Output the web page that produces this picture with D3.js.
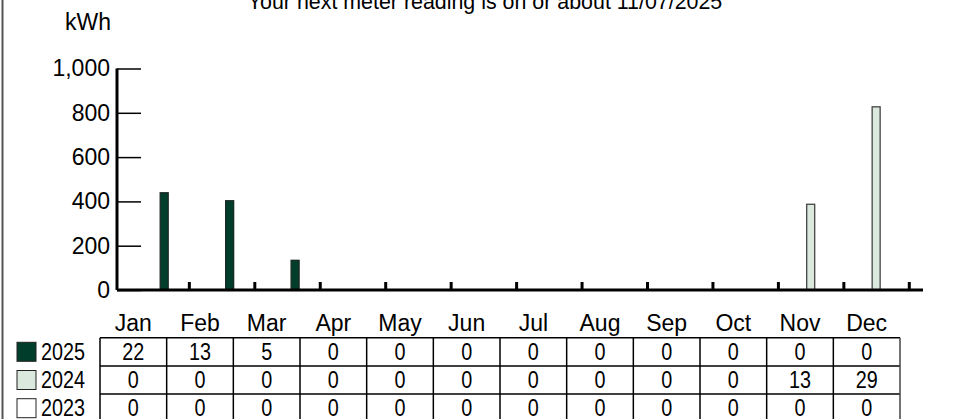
<!DOCTYPE html>
<html>
<head>
<meta charset="utf-8">
<script src="https://cdn.jsdelivr.net/npm/d3@7"></script>
<style>
  body { margin: 0; background: #fff; }
  svg { display: block; font-family: "Liberation Sans", Arial, sans-serif; }
</style>
</head>
<body>
<div id="chart"></div>
<script>

var months = ['Jan','Feb','Mar','Apr','May','Jun','Jul','Aug','Sep','Oct','Nov','Dec'];
var years = ['2025','2024','2023'];

// bar heights in kWh
var kwh2025 = [439, 403, 134, 0, 0, 0, 0, 0, 0, 0, 0, 0];
var kwh2024 = [0, 0, 0, 0, 0, 0, 0, 0, 0, 0, 387, 827];
var kwh2023 = [0, 0, 0, 0, 0, 0, 0, 0, 0, 0, 0, 0];

// numbers in the table under the chart
var table2025 = [22, 13, 5, 0, 0, 0, 0, 0, 0, 0, 0, 0];
var table2024 = [0, 0, 0, 0, 0, 0, 0, 0, 0, 0, 13, 29];
var table2023 = [0, 0, 0, 0, 0, 0, 0, 0, 0, 0, 0, 0];

var yTicks = [0, 200, 400, 600, 800, 1000];
var titleText = 'Your next meter reading is on or about 11/07/2025';

var colors = {'2025': '#003d2b', '2024': '#dae8de', '2023': '#ffffff'};

function drawChart(containerId){

    var width = 955, height = 419;
    var narrow = 0.86;   // table digits are drawn narrow in the original

    var svg = d3.select('#' + containerId).append('svg')
        .attr('width', width)
        .attr('height', height);

    // frame edge on the left
    svg.append('line')
        .attr('x1', 2.5).attr('x2', 2.5)
        .attr('y1', 0).attr('y2', height)
        .attr('stroke', '#555')
        .attr('stroke-width', 2);

    svg.append('text')
        .attr('x', 485)
        .attr('y', 9)
        .attr('text-anchor', 'middle')
        .attr('font-size', 21.4)
        .text(titleText);

    var y = d3.scaleLinear()
        .domain([0, 1000])
        .range([290, 68.5]);

    var x = d3.scaleBand()
        .domain(months)
        .range([123.9, 909.3]);

    var sub = d3.scaleBand()
        .domain(['2023', '2024', '2025'])
        .range([20.3, 44.3]);

    // y axis
    var yAxis = g => g
        .attr('transform', 'translate(117,0)')
        .call(d3.axisLeft(y).tickValues(yTicks).tickSize(-24).tickPadding(7).tickFormat(d3.format(',')))
        .call(g => g.select('.domain').attr('stroke-width', 3).attr('d', 'M0,' + y(1000) + 'V' + y(0)))
        .call(g => g.selectAll('.tick line').attr('stroke-width', 1.5))
        .call(g => g.selectAll('.tick text').attr('font-size', 23).attr('fill', '#000').attr('font-family', null));

    svg.append('g').call(yAxis);

    svg.append('text')
        .attr('x', 111)
        .attr('y', 30)
        .attr('text-anchor', 'end')
        .attr('font-size', 23)
        .text('kWh');

    // bars
    var series = [
        {year: '2023', values: kwh2023, stroke: '#333'},
        {year: '2024', values: kwh2024, stroke: '#444'},
        {year: '2025', values: kwh2025, stroke: '#1c2a24'}
    ];

    series.forEach(function(s) {
        svg.append('g')
            .selectAll('rect')
            .data(s.values.map((v, i) => ({month: months[i], value: v})).filter(d => d.value > 0))
            .join('rect')
            .attr('x', d => x(d.month) + sub(s.year))
            .attr('y', d => y(d.value))
            .attr('width', sub.bandwidth())
            .attr('height', d => y(0) - y(d.value))
            .attr('fill', colors[s.year])
            .attr('stroke', s.stroke)
            .attr('stroke-width', 1.3);
    });

    // x axis line with upward ticks at month boundaries
    svg.append('line')
        .attr('x1', 117).attr('x2', 923)
        .attr('y1', y(0)).attr('y2', y(0))
        .attr('stroke', '#000')
        .attr('stroke-width', 3);

    svg.append('g')
        .selectAll('line')
        .data(months)
        .join('line')
        .attr('x1', d => x(d) + x.bandwidth())
        .attr('x2', d => x(d) + x.bandwidth())
        .attr('y1', y(0))
        .attr('y2', y(0) - 8)
        .attr('stroke', '#000')
        .attr('stroke-width', 3);

    // data table
    var col = d3.scaleBand()
        .domain(months)
        .range([100, 900]);

    var row = d3.scaleBand()
        .domain(years)
        .range([337.7, 422.3]);

    svg.append('g')
        .selectAll('text')
        .data(months)
        .join('text')
        .attr('x', d => col(d) + col.bandwidth() / 2)
        .attr('y', 331)
        .attr('text-anchor', 'middle')
        .attr('font-size', 23)
        .text(d => d);

    var tableRows = [
        {year: '2025', values: table2025},
        {year: '2024', values: table2024},
        {year: '2023', values: table2023}
    ];

    var grid = svg.append('g')
        .attr('stroke', '#000')
        .attr('stroke-width', 1.5);

    years.concat(['end']).forEach(function(yr, i) {
        var yy = i < years.length ? row(yr) : row.range()[1];
        grid.append('line')
            .attr('x1', 100).attr('x2', 900)
            .attr('y1', yy).attr('y2', yy);
    });

    months.forEach(function(m) {
        grid.append('line')
            .attr('x1', col(m)).attr('x2', col(m))
            .attr('y1', row.range()[0]).attr('y2', row.range()[1]);
    });
    grid.append('line')
        .attr('x1', 900).attr('x2', 900)
        .attr('y1', row.range()[0]).attr('y2', row.range()[1])
        .attr('stroke', '#444');

    tableRows.forEach(function(r) {
        var cy = row(r.year) + row.bandwidth() / 2;

        svg.append('g')
            .selectAll('text')
            .data(r.values)
            .join('text')
            .attr('transform', (d, i) => 'translate(' + (col(months[i]) + col.bandwidth() / 2) + ',' + cy + ') scale(' + narrow + ',1)')
            .attr('dy', '0.36em')
            .attr('text-anchor', 'middle')
            .attr('font-size', 23)
            .text(d => d);

        // legend square and year
        svg.append('rect')
            .attr('x', 17)
            .attr('y', cy - 9.5)
            .attr('width', 19)
            .attr('height', 19)
            .attr('fill', colors[r.year])
            .attr('stroke', '#222')
            .attr('stroke-width', 1);

        svg.append('text')
            .attr('transform', 'translate(41,' + cy + ') scale(' + narrow + ',1)')
            .attr('dy', '0.36em')
            .attr('font-size', 23)
            .text(r.year);
    });
}

drawChart('chart');

</script>
</body>
</html>
